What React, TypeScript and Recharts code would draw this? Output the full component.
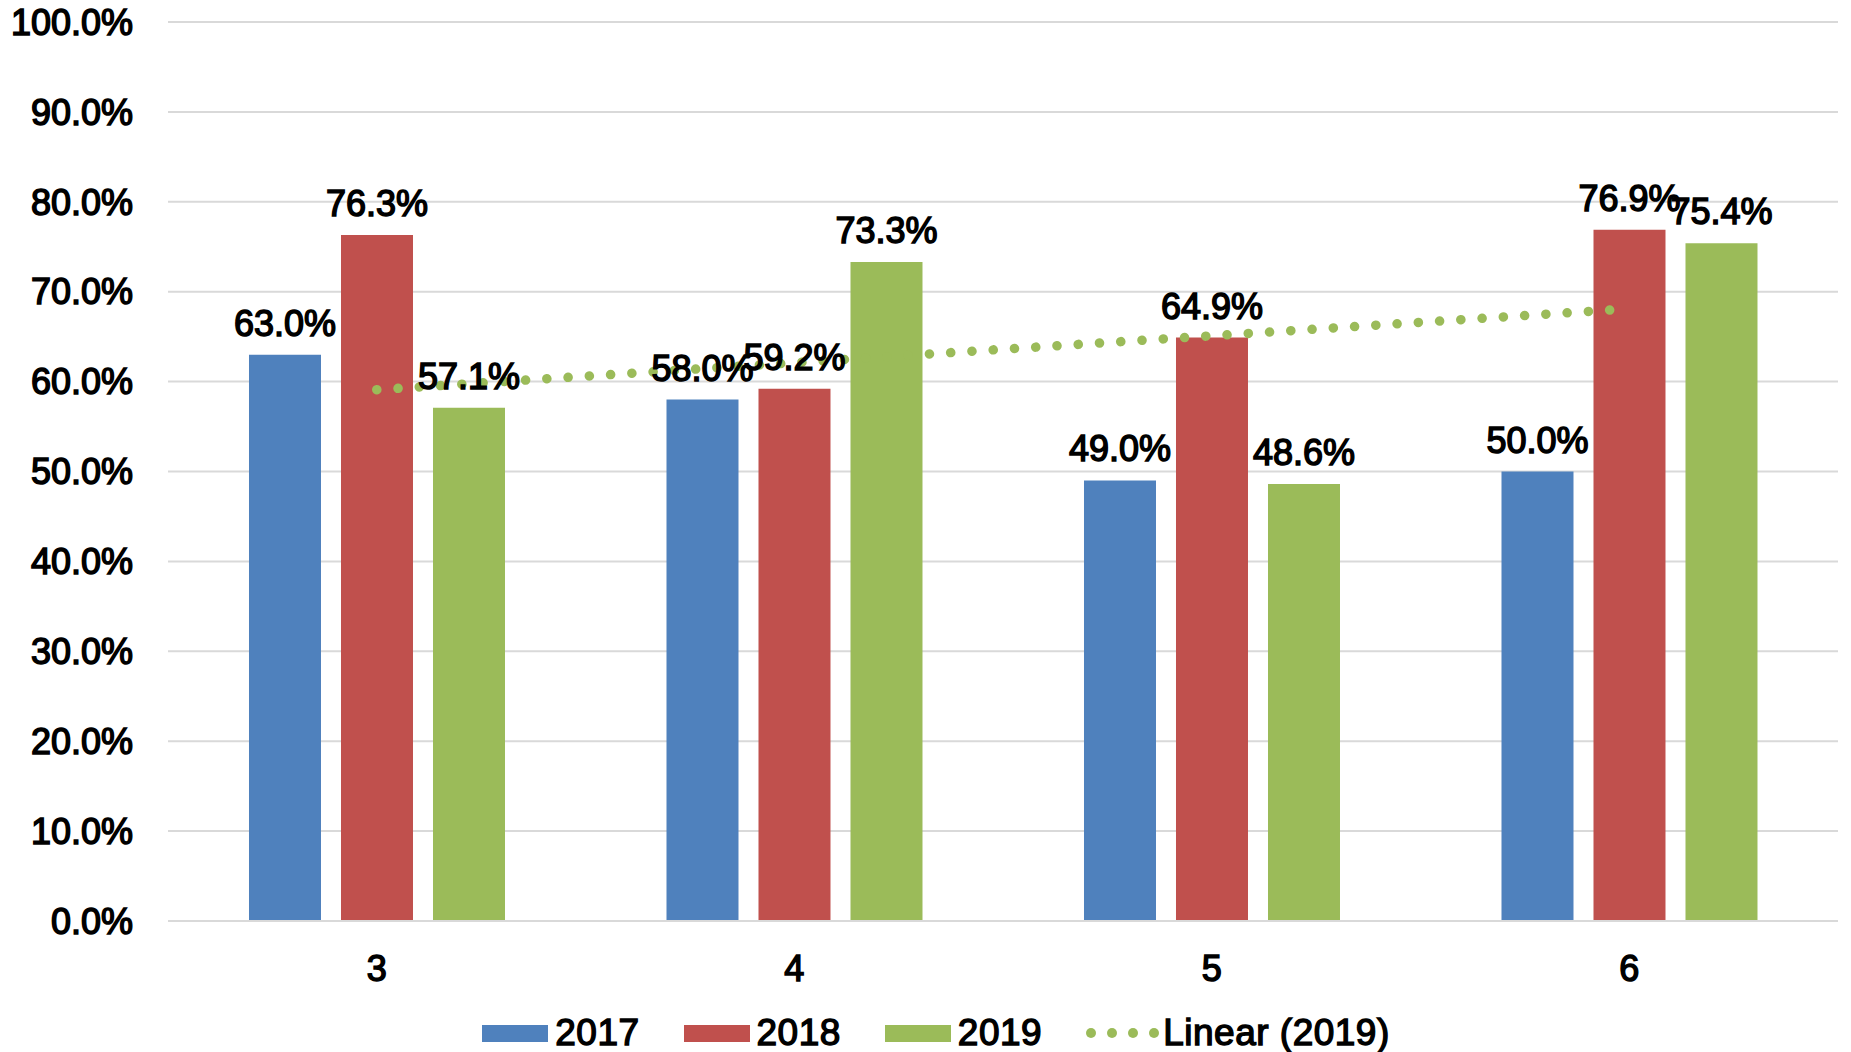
import {
  ComposedChart,
  Bar,
  Line,
  XAxis,
  YAxis,
  CartesianGrid,
  Legend,
  LabelList,
} from "recharts";

const grades = ["3", "4", "5", "6"];
const y2017 = [63.0, 58.0, 49.0, 50.0];
const y2018 = [76.3, 59.2, 64.9, 76.9];
const y2019 = [57.1, 73.3, 48.6, 75.4];
// linear trend of 2019
const trend2019 = [59.1, 62.1, 65.1, 68.1];
const yTicks = [0, 10, 20, 30, 40, 50, 60, 70, 80, 90, 100];

const data = grades.map((g, i) => ({
  grade: g,
  y2017: y2017[i],
  y2018: y2018[i],
  y2019: y2019[i],
  trend: trend2019[i],
}));

const BLUE = "#4F81BD";
const RED = "#C0504D";
const GREEN = "#9BBB59";
const FONT = "'Liberation Sans', Arial, sans-serif";

const pct = (v: any) => Number(v).toFixed(1) + "%";

// semi-bold look: regular weight with a thin outline
const labelStyle = {
  fontSize: 36,
  fontWeight: 400,
  fill: "#000",
  stroke: "#000",
  strokeWidth: 1.5,
  fontFamily: FONT,
};

function LegendBox({ color, text }: { color: string; text: string }) {
  return (
    <div style={{ display: "flex", alignItems: "center", gap: 7 }}>
      <div style={{ width: 66, height: 17, background: color }} />
      <span>{text}</span>
    </div>
  );
}

function ChartLegend() {
  return (
    <div
      style={{
        display: "flex",
        justifyContent: "center",
        alignItems: "center",
        gap: 44,
        height: 62,
        paddingTop: 24,
        paddingLeft: 34,
        boxSizing: "border-box",
        fontFamily: FONT,
        fontSize: 37,
        color: "#000",
        WebkitTextStroke: "1.4px #000",
        letterSpacing: 0.5,
      }}
    >
      <LegendBox color={BLUE} text="2017" />
      <LegendBox color={RED} text="2018" />
      <LegendBox color={GREEN} text="2019" />
      <div style={{ display: "flex", alignItems: "center", gap: 3 }}>
        <svg width={74} height={12}>
          {[5, 26, 47, 68].map((cx) => (
            <circle key={cx} cx={cx} cy={6} r={5} fill={GREEN} />
          ))}
        </svg>
        <span>Linear (2019)</span>
      </div>
    </div>
  );
}

export default function App() {
  return (
    <div style={{ position: "absolute", left: 0, top: 0, background: "#fff" }}>
      <ComposedChart
        width={1851}
        height={1052}
        data={data}
        margin={{ top: 22, right: 13, bottom: 0, left: 0 }}
        barGap={20}
        barCategoryGap="19.4%"
      >
        <CartesianGrid vertical={false} stroke="#D9D9D9" strokeWidth={2} />
        <XAxis
          dataKey="grade"
          height={69}
          tickLine={false}
          tickSize={0}
          tickMargin={34}
          axisLine={{ stroke: "#D9D9D9", strokeWidth: 2 }}
          tick={{ ...labelStyle }}
        />
        <YAxis
          width={168}
          domain={[0, 100]}
          ticks={yTicks}
          interval={0}
          tickFormatter={pct}
          axisLine={false}
          tickLine={false}
          tickSize={0}
          tickMargin={35}
          tick={{ ...labelStyle }}
        />
        <Legend verticalAlign="bottom" height={62} content={() => <ChartLegend />} />
        <Bar dataKey="y2017" name="2017" fill={BLUE} isAnimationActive={false}>
          <LabelList dataKey="y2017" position="top" offset={19} formatter={pct} style={labelStyle} />
        </Bar>
        <Bar dataKey="y2018" name="2018" fill={RED} isAnimationActive={false}>
          <LabelList dataKey="y2018" position="top" offset={19} formatter={pct} style={labelStyle} />
        </Bar>
        <Bar dataKey="y2019" name="2019" fill={GREEN} isAnimationActive={false}>
          <LabelList dataKey="y2019" position="top" offset={19} formatter={pct} style={labelStyle} />
        </Bar>
        <Line
          dataKey="trend"
          name="Linear (2019)"
          type="linear"
          stroke={GREEN}
          strokeWidth={9.5}
          strokeLinecap="round"
          strokeDasharray="0.1 21.2"
          dot={false}
          activeDot={false}
          isAnimationActive={false}
        />
      </ComposedChart>
    </div>
  );
}
